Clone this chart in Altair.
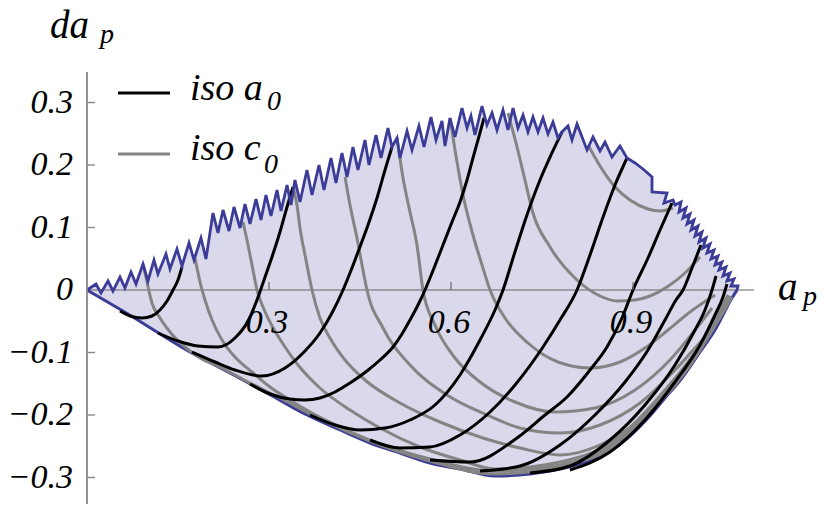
import altair as alt
import pandas as pd

# ---------------- plot window (data units) ----------------
X_DOMAIN = [-0.1302, 1.2049]
Y_DOMAIN = [-0.3424, 0.4512]

# ---------------- upper (saw-tooth) edge of the region ----------------
SAW_X = [0, 0.0148, 0.0231, 0.0346, 0.0429, 0.0544, 0.0626, 0.0725, 0.0808, 0.0923, 0.1005, 0.1104, 0.117, 0.1302, 0.1368, 0.1483, 0.1566, 0.1681, 0.1764, 0.1879, 0.1961,
         0.2077, 0.2159, 0.2242, 0.2341, 0.2423, 0.2522, 0.2604, 0.2687, 0.2786, 0.2868, 0.295, 0.3033, 0.3132, 0.3198, 0.3297, 0.3363, 0.3428,
         0.3511, 0.3626, 0.3709, 0.3824, 0.3906, 0.4022, 0.4104, 0.4203, 0.4286, 0.4384, 0.4467, 0.4582, 0.4648, 0.4764, 0.4846, 0.4961, 0.5027,
         0.511, 0.5159, 0.5275, 0.5357, 0.5472, 0.5555, 0.567, 0.5753, 0.5851, 0.5901, 0.5983, 0.6066, 0.6181, 0.6264, 0.6329, 0.6395, 0.6511, 0.6593, 0.6676, 0.6758, 0.6857, 0.6939, 0.7022, 0.7104, 0.7187, 0.7269, 0.7351, 0.7434, 0.7516, 0.7599, 0.7681, 0.7763, 0.7829,
         0.7928, 0.7994, 0.8077, 0.8242, 0.834, 0.8456, 0.8538, 0.8653, 0.8785, 0.8901, 0.9033, 0.9164, 0.9313, 0.9313, 0.956, 0.9511, 0.9659,
         0.9692, 0.9791, 0.9758, 0.9873, 0.9824, 0.9939, 0.989, 1.0005, 0.9956, 1.0071, 1.0022, 1.0137, 1.0088, 1.0203, 1.0153, 1.0269, 1.0219, 1.0335, 1.0285, 1.0401, 1.0351, 1.0467, 1.0417, 1.0533, 1.0483, 1.0599, 1.0549, 1.0665, 1.0615, 1.073, 1.0714]
SAW_Y = [0, 0.0096, -0.0048, 0.0144, -0.0016, 0.0208, 0.0032, 0.0288, 0.0096, 0.0416, 0.0144, 0.048, 0.0256, 0.0576, 0.0336, 0.0656, 0.0384, 0.0752, 0.048, 0.0832, 0.0496,
         0.1232, 0.0912, 0.128, 0.0944, 0.1328, 0.0992, 0.1376, 0.1056, 0.1456, 0.112, 0.152, 0.1184, 0.16, 0.1264, 0.168, 0.136, 0.176,
         0.1408, 0.192, 0.152, 0.2, 0.16, 0.2112, 0.1712, 0.2192, 0.1808, 0.2288, 0.192, 0.24, 0.2, 0.248, 0.2112, 0.2592, 0.2288,
         0.2432, 0.2112, 0.2544, 0.224, 0.2624, 0.2288, 0.2768, 0.24, 0.2704, 0.2304, 0.2752, 0.2448, 0.2912, 0.2592, 0.2784, 0.248, 0.2944, 0.264, 0.2832, 0.256, 0.288, 0.256, 0.2912, 0.2592, 0.28, 0.2528, 0.2768, 0.2528, 0.2752, 0.2496, 0.2688, 0.2432, 0.2528,
         0.2624, 0.24, 0.2656, 0.224, 0.2448, 0.2224, 0.2368, 0.2128, 0.2304, 0.2112, 0.2032, 0.1936, 0.1808, 0.1568, 0.1552, 0.1392, 0.144,
         0.136, 0.1408, 0.1248, 0.1312, 0.1152, 0.1216, 0.1056, 0.112, 0.096, 0.1024, 0.0864, 0.0928, 0.0768, 0.0832, 0.0672, 0.0736, 0.0592, 0.064, 0.0496, 0.0544, 0.04, 0.0448, 0.032, 0.0368, 0.0224, 0.0272, 0.0144, 0.0176, 0.0064, 0.0064, 0]

# ---------------- lower (smooth) edge of the region ----------------
LOW_X = [0, 0.0593, 0.1698, 0.2357, 0.2967, 0.3593, 0.417, 0.4665, 0.516, 0.5654, 0.6148, 0.6725, 0.7302, 0.7796, 0.8159, 0.8456, 0.8703, 0.9247, 0.9527, 0.9807, 1.0104, 1.0351, 1.0631, 1.0714]
LOW_Y = [0, -0.0336, -0.0992, -0.1328, -0.1648, -0.1984, -0.224, -0.2448, -0.2608, -0.2768, -0.2864, -0.2976, -0.2944, -0.2864, -0.2768, -0.2656, -0.2528, -0.2048, -0.1728, -0.1408, -0.0992, -0.064, -0.0128, 0]

# ---------------- iso a0 curves (black) ----------------
ISO_A = [
    ([0.0544, 0.0709, 0.0907, 0.1071, 0.1203, 0.1319, 0.1418, 0.15, 0.1566],
     [-0.0336, -0.0416, -0.0448, -0.0416, -0.032, -0.0176, 0, 0.016, 0.0368]),
    ([0.117, 0.15, 0.183, 0.2159, 0.2439, 0.2654, 0.2802, 0.2918, 0.3049, 0.3181, 0.3297, 0.3395],
     [-0.0688, -0.0816, -0.0896, -0.0912, -0.0768, -0.0496, -0.016, 0.016, 0.0528, 0.0928, 0.1328, 0.1648]),
    ([0.1731, 0.211, 0.2439, 0.2885, 0.3264, 0.3593, 0.384, 0.4038, 0.422, 0.4335, 0.4467, 0.4632, 0.478, 0.4912, 0.5027],
     [-0.0992, -0.1152, -0.128, -0.1376, -0.1248, -0.0976, -0.0688, -0.0368, 0, 0.0272, 0.0608, 0.104, 0.1472, 0.192, 0.2288]),
    ([0.2687, 0.3016, 0.3346, 0.3593, 0.384, 0.4088, 0.4335, 0.4615, 0.4829, 0.5044, 0.5192, 0.5324, 0.5456, 0.5571, 0.572, 0.5868, 0.6016, 0.6148, 0.6264, 0.6362, 0.6445, 0.6544],
     [-0.1504, -0.1664, -0.1744, -0.176, -0.1728, -0.1632, -0.1488, -0.1296, -0.112, -0.0912, -0.0704, -0.048, -0.024, 0, 0.0352, 0.072, 0.1088, 0.1408, 0.176, 0.2112, 0.24, 0.2752]),
    ([0.3676, 0.4088, 0.45, 0.4912, 0.5324, 0.5736, 0.6148, 0.6478, 0.6725, 0.6857, 0.7038, 0.7252, 0.7467, 0.7648, 0.7829],
     [-0.2, -0.216, -0.224, -0.2208, -0.208, -0.184, -0.136, -0.08, -0.032, 0, 0.056, 0.12, 0.176, 0.216, 0.2528]),
    ([0.4665, 0.5159, 0.5654, 0.6148, 0.6643, 0.7055, 0.7516, 0.7796, 0.8077, 0.8291, 0.8489, 0.8703, 0.8901],
     [-0.24, -0.2528, -0.2512, -0.232, -0.1952, -0.152, -0.0912, -0.048, 0, 0.056, 0.112, 0.168, 0.2112]),
    ([0.5654, 0.6313, 0.7088, 0.7549, 0.7912, 0.8291, 0.8571, 0.8818, 0.9, 0.9247, 0.9445, 0.9642],
     [-0.272, -0.2752, -0.2368, -0.2, -0.1712, -0.128, -0.0912, -0.0448, 0, 0.0512, 0.096, 0.1392]),
    ([0.6478, 0.7137, 0.7796, 0.8373, 0.8868, 0.9247, 0.9527, 0.9708, 0.9824, 0.9972, 1.012],
     [-0.2896, -0.2816, -0.248, -0.2, -0.1472, -0.096, -0.048, -0.016, 0, 0.0352, 0.072]),
    ([0.7302, 0.7961, 0.862, 0.9197, 0.9692, 1.0022, 1.0186, 1.0302, 1.0368],
     [-0.2928, -0.2816, -0.24, -0.184, -0.12, -0.064, -0.032, 0, 0.0224]),
    ([0.7961, 0.862, 0.9197, 0.9692, 1.0104, 1.0351, 1.0483, 1.0549],
     [-0.288, -0.2592, -0.208, -0.1472, -0.088, -0.04, -0.0112, 0.0096]),
]

# ---------------- iso c0 curves (gray) ----------------
ISO_C = [
    ([0.0923, 0.0989, 0.1071, 0.1203, 0.1368, 0.1615, 0.1863, 0.2192, 0.2687, 0.3181, 0.384, 0.4665, 0.5654, 0.6725, 0.7796, 0.8703, 0.9527, 1.0104, 1.0631],
     [0.0416, 0.0128, -0.0208, -0.0448, -0.0672, -0.0912, -0.1088, -0.1232, -0.1488, -0.1728, -0.2064, -0.2416, -0.2736, -0.2944, -0.2816, -0.2496, -0.1696, -0.096, -0.0112]),
    ([0.178, 0.1863, 0.1945, 0.2061, 0.2225, 0.2439, 0.272, 0.3016, 0.3346, 0.3676, 0.417, 0.4829, 0.5654, 0.6725, 0.7796, 0.8703, 0.9527, 1.0104, 1.0599],
     [0.0512, 0.0128, -0.016, -0.048, -0.08, -0.1072, -0.1312, -0.1552, -0.176, -0.1952, -0.2192, -0.2464, -0.2704, -0.2896, -0.28, -0.2448, -0.1648, -0.0912, -0.0096]),
    ([0.2571, 0.2654, 0.272, 0.2802, 0.2901, 0.3016, 0.3264, 0.3478, 0.384, 0.4335, 0.4829, 0.5489, 0.6148, 0.6725, 0.7796, 0.8703, 0.9527, 1.0104, 1.0566],
     [0.1088, 0.072, 0.04, 0, -0.0272, -0.0512, -0.0912, -0.12, -0.1568, -0.192, -0.2208, -0.2512, -0.272, -0.2864, -0.2752, -0.24, -0.16, -0.088, -0.008]),
    ([0.3395, 0.3461, 0.3511, 0.361, 0.3709, 0.384, 0.4005, 0.4253, 0.4582, 0.5159, 0.5818, 0.6527, 0.7137, 0.7796, 0.8456, 0.9115, 0.9692, 1.0104, 1.0467],
     [0.1648, 0.136, 0.0992, 0.048, 0, -0.0448, -0.0768, -0.112, -0.144, -0.1808, -0.2112, -0.2368, -0.2528, -0.264, -0.248, -0.208, -0.152, -0.096, -0.024]),
    ([0.4253, 0.4335, 0.445, 0.4533, 0.4615, 0.4879, 0.5324, 0.5934, 0.6593, 0.7137, 0.7796, 0.8456, 0.9115, 0.9692, 1.0022, 1.0269],
     [0.1808, 0.136, 0.0832, 0.04, 0, -0.0608, -0.12, -0.168, -0.2, -0.2208, -0.2288, -0.216, -0.1808, -0.128, -0.0928, -0.0672]),
    ([0.511, 0.5209, 0.5324, 0.5439, 0.5538, 0.5736, 0.6066, 0.6478, 0.7055, 0.7714, 0.8373, 0.9033, 0.9609, 1.0022, 1.0302],
     [0.2432, 0.1792, 0.1248, 0.072, 0, -0.056, -0.1088, -0.1472, -0.1792, -0.1952, -0.1888, -0.16, -0.112, -0.064, -0.0288]),
    ([0.5983, 0.6099, 0.6198, 0.6362, 0.6511, 0.6643, 0.689, 0.7269, 0.7763, 0.8291, 0.8785, 0.9197, 0.9577, 0.9939, 1.0351],
     [0.2752, 0.2048, 0.152, 0.088, 0.04, 0, -0.0448, -0.0848, -0.1152, -0.1248, -0.1152, -0.0928, -0.064, -0.0352, -0.008]),
    ([0.6939, 0.7088, 0.7219, 0.7351, 0.7632, 0.8077, 0.8456, 0.8736, 0.9033, 0.928, 0.956, 0.9857, 1.0104],
     [0.2832, 0.2288, 0.176, 0.1232, 0.0688, 0.016, -0.0096, -0.0176, -0.016, -0.0096, 0.0048, 0.0272, 0.0528]),
    ([0.8258, 0.8456, 0.8703, 0.895, 0.9247, 0.9445, 0.9659],
     [0.232, 0.1984, 0.1648, 0.144, 0.1296, 0.1264, 0.1312]),
]

# ---------------- axes ----------------
Y_TICKS = [0.3, 0.2, 0.1, 0, -0.1, -0.2, -0.3]
Y_LABELS = ["0.3", "0.2", "0.1", "0", "\u22120.1", "\u22120.2", "\u22120.3"]
X_TICKS = [0.3, 0.6, 0.9]
X_LABELS = ["0.3", "0.6", "0.9"]
LEGEND = ["iso a", "iso c"]
LEGEND_SUB = ["0", "0"]

FILL = "#d9d9eb"
BLUE = "#3b3b98"
GRAY = "#848484"
AXIS = "#888888"
FONT = "Liberation Serif"
LW = 3.0

xsc = alt.Scale(domain=X_DOMAIN, nice=False, zero=False)
ysc = alt.Scale(domain=Y_DOMAIN, nice=False, zero=False)
X = alt.X("x:Q", scale=xsc, axis=None)
Y = alt.Y("y:Q", scale=ysc, axis=None)


def pts(xs, ys, **extra):
    d = pd.DataFrame({"x": xs, "y": ys})
    d["i"] = range(len(d))
    for k, v in extra.items():
        d[k] = v
    return d


poly_df = pts(SAW_X + LOW_X[-2:0:-1], SAW_Y + LOW_Y[-2:0:-1])
saw_df = pts(SAW_X, SAW_Y)
low_df = pts(LOW_X, LOW_Y)
a_df = pd.concat([pts(xs, ys, c=f"a{k}") for k, (xs, ys) in enumerate(ISO_A)], ignore_index=True)
c_df = pd.concat([pts(xs, ys, c=f"c{k}") for k, (xs, ys) in enumerate(ISO_C)], ignore_index=True)

fill = alt.Chart(poly_df).mark_line(fill=FILL, stroke=FILL, strokeWidth=0.5).encode(X, Y, order="i:Q")
low = alt.Chart(low_df).mark_line(color=BLUE, strokeWidth=3.0, interpolate="monotone").encode(X, Y, order="i:Q")
saw = alt.Chart(saw_df).mark_line(color=BLUE, strokeWidth=2.8, strokeJoin="miter").encode(X, Y, order="i:Q")
gray = alt.Chart(c_df).mark_line(color=GRAY, strokeWidth=LW, interpolate="monotone").encode(X, Y, detail="c:N", order="i:Q")
black = alt.Chart(a_df).mark_line(color="black", strokeWidth=LW, interpolate="monotone").encode(X, Y, detail="c:N", order="i:Q")

# axis lines
yaxis_df = pd.DataFrame({"x": [0.0], "x2": [0.0], "y": [Y_DOMAIN[0]], "y2": [0.3488]})
xaxis_df = pd.DataFrame({"x": [0.0], "x2": [1.0994], "y": [0.0], "y2": [0.0]})
yaxis = alt.Chart(yaxis_df).mark_rule(color=AXIS, strokeWidth=1.8).encode(X, Y, x2="x2:Q", y2="y2:Q")
xaxis = alt.Chart(xaxis_df).mark_rule(color="#666666", strokeWidth=1.2).encode(X, Y, x2="x2:Q", y2="y2:Q")

ytick_df = pd.DataFrame({"y": Y_TICKS, "y2": Y_TICKS, "x": 0.0, "x2": 0.0132})
ytick_df = ytick_df[ytick_df["y"] != 0]
xtick_df = pd.DataFrame({"x": X_TICKS, "x2": X_TICKS, "y": 0.0, "y2": 0.0128})
yticks = alt.Chart(ytick_df).mark_rule(color=AXIS, strokeWidth=1.4).encode(X, Y, x2="x2:Q", y2="y2:Q")
xticks = alt.Chart(xtick_df).mark_rule(color="#666666", strokeWidth=1.2).encode(X, Y, x2="x2:Q", y2="y2:Q")

ylab_df = pd.DataFrame({"y": Y_TICKS, "t": Y_LABELS, "x": -0.0231})
ylabels = alt.Chart(ylab_df).mark_text(font=FONT, fontStyle="italic", fontSize=34, align="right", baseline="middle", color="black").encode(X, Y, text="t:N")
xlab_df = pd.DataFrame({"x": X_TICKS, "t": X_LABELS, "y": -0.069})
xlabels = alt.Chart(xlab_df).mark_text(font=FONT, fontStyle="italic", fontSize=34, align="center", baseline="alphabetic", dx=-2, color="black").encode(X, Y, text="t:N")

# axis titles
ttl_df = pd.DataFrame({"x": [-0.061, 1.139], "y": [0.4032, -0.016], "t": ["da", "a"]})
sub_df = pd.DataFrame({"x": [0.0214, 1.180], "y": [0.3952, -0.024], "t": ["p", "p"]})
titles = alt.Chart(ttl_df).mark_text(font=FONT, fontStyle="italic", fontSize=39, align="left", baseline="alphabetic", color="black").encode(X, Y, text="t:N")
subs = alt.Chart(sub_df).mark_text(font=FONT, fontStyle="italic", fontSize=28, align="left", baseline="alphabetic", color="black").encode(X, Y, text="t:N")

# legend
leg_line_df = pd.DataFrame({"x": [0.0511, 0.0511], "x2": [0.1368, 0.1368], "y": [0.3152, 0.2176], "y2": [0.3152, 0.2176], "k": ["a", "c"]})
leg_lines = alt.Chart(leg_line_df).mark_rule(strokeWidth=LW).encode(
    X, Y, x2="x2:Q", y2="y2:Q",
    color=alt.Color("k:N", scale=alt.Scale(domain=["a", "c"], range=["black", GRAY]), legend=None))
leg_txt_df = pd.DataFrame({"x": [0.1698, 0.1698], "y": [0.304, 0.208], "t": LEGEND})
leg_sub_df = pd.DataFrame({"x": [0.2967, 0.2918], "y": [0.288, 0.1872], "t": LEGEND_SUB})
leg_txt = alt.Chart(leg_txt_df).mark_text(font=FONT, fontStyle="italic", fontSize=38, align="left", baseline="alphabetic", color="black").encode(X, Y, text="t:N")
leg_sub = alt.Chart(leg_sub_df).mark_text(font=FONT, fontStyle="italic", fontSize=28, align="left", baseline="alphabetic", color="black").encode(X, Y, text="t:N")

chart = alt.layer(
    fill, xaxis, low, gray, black, saw, yaxis, yticks, xticks,
    ylabels, xlabels, titles, subs, leg_lines, leg_txt, leg_sub
).properties(width=810, height=496, padding=0, autosize="none").configure_view(stroke=None)

chart.save("out.html", embed_options={"renderer": "svg", "actions": False})
